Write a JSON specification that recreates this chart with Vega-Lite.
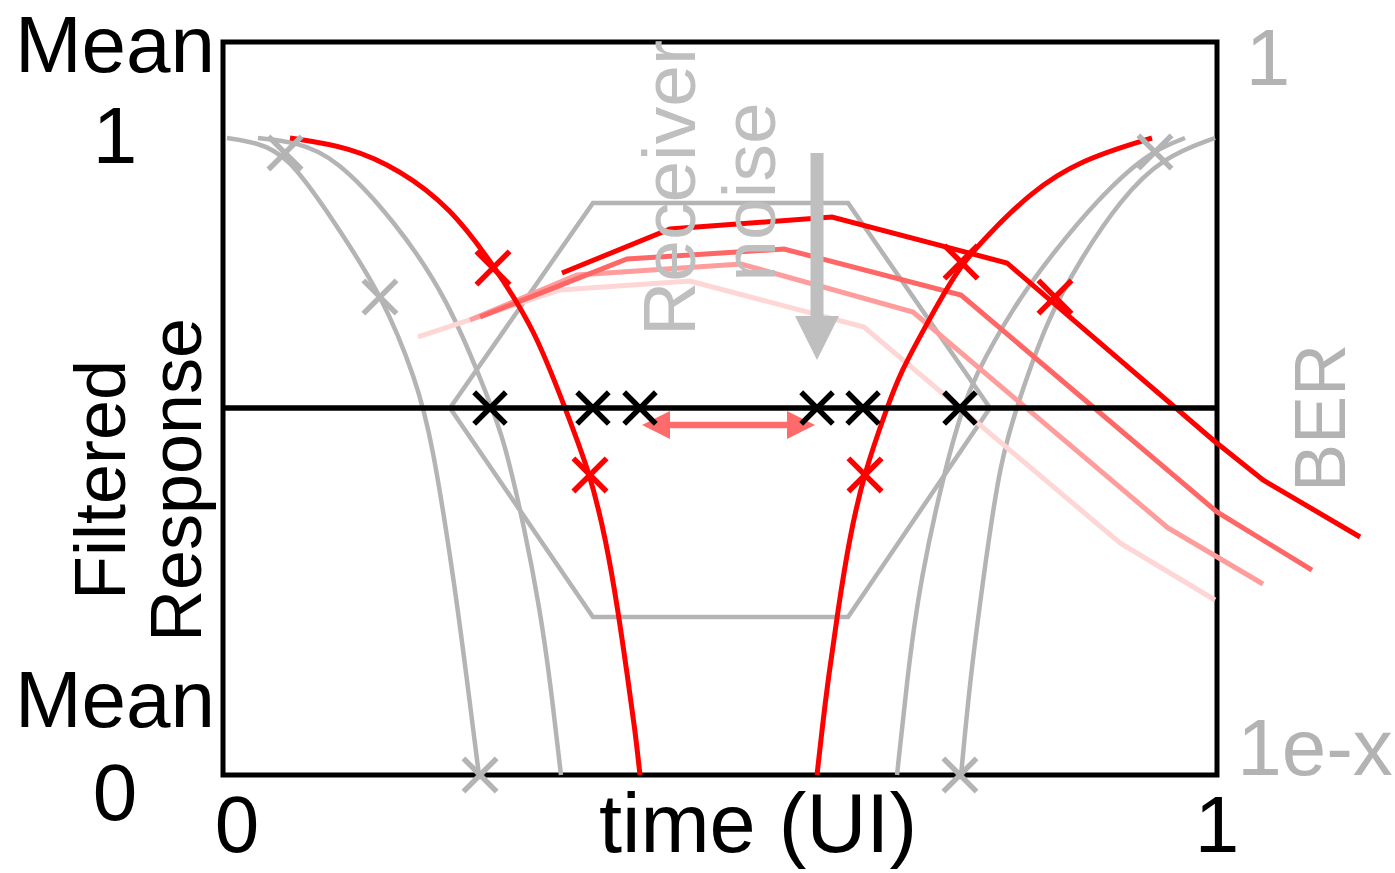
{
  "$schema": "https://vega.github.io/schema/vega-lite/v6.json",
  "width": 994,
  "height": 733,
  "autosize": {"type": "none"},
  "padding": {"left": 223, "top": 42, "right": 178, "bottom": 98},
  "background": "white",
  "config": {
    "view": {"stroke": "black", "strokeWidth": 5},
    "text": {"font": "Liberation Sans"}
  },
  "data": {
    "values": [
      {"g": "A", "t": 0.004, "r": 1.0},
      {"g": "A", "t": 0.0322, "r": 0.9937},
      {"g": "A", "t": 0.0654, "r": 0.9733},
      {"g": "A", "t": 0.1107, "r": 0.8713},
      {"g": "A", "t": 0.161, "r": 0.7504},
      {"g": "A", "t": 0.1942, "r": 0.6201},
      {"g": "A", "t": 0.2103, "r": 0.5259},
      {"g": "A", "t": 0.2324, "r": 0.3061},
      {"g": "A", "t": 0.2455, "r": 0.1491},
      {"g": "A", "t": 0.2575, "r": 0.0},
      {"g": "B", "t": 0.0352, "r": 1.0},
      {"g": "B", "t": 0.0734, "r": 0.9937},
      {"g": "B", "t": 0.1127, "r": 0.9702},
      {"g": "B", "t": 0.172, "r": 0.8713},
      {"g": "B", "t": 0.2264, "r": 0.7488},
      {"g": "B", "t": 0.2696, "r": 0.5808},
      {"g": "B", "t": 0.2827, "r": 0.5259},
      {"g": "B", "t": 0.3038, "r": 0.3846},
      {"g": "B", "t": 0.3189, "r": 0.259},
      {"g": "B", "t": 0.329, "r": 0.1491},
      {"g": "B", "t": 0.34, "r": 0.0},
      {"g": "C", "t": 0.6781, "r": 0.0},
      {"g": "C", "t": 0.6881, "r": 0.1491},
      {"g": "C", "t": 0.7012, "r": 0.3061},
      {"g": "C", "t": 0.7284, "r": 0.4945},
      {"g": "C", "t": 0.7445, "r": 0.5761},
      {"g": "C", "t": 0.7545, "r": 0.6201},
      {"g": "C", "t": 0.7948, "r": 0.7347},
      {"g": "C", "t": 0.835, "r": 0.8195},
      {"g": "C", "t": 0.8793, "r": 0.9027},
      {"g": "C", "t": 0.9296, "r": 0.9765},
      {"g": "C", "t": 0.9678, "r": 1.0},
      {"g": "D", "t": 0.7425, "r": 0.0},
      {"g": "D", "t": 0.7515, "r": 0.1491},
      {"g": "D", "t": 0.7646, "r": 0.3061},
      {"g": "D", "t": 0.7817, "r": 0.4945},
      {"g": "D", "t": 0.8018, "r": 0.5934},
      {"g": "D", "t": 0.829, "r": 0.7143},
      {"g": "D", "t": 0.8622, "r": 0.8085},
      {"g": "D", "t": 0.9024, "r": 0.9027},
      {"g": "D", "t": 0.9457, "r": 0.9702},
      {"g": "D", "t": 0.998, "r": 1.0},
      {"g": "H", "o": 1, "t": 0.2284, "r": 0.5761},
      {"g": "H", "o": 2, "t": 0.3722, "r": 0.898},
      {"g": "H", "o": 3, "t": 0.6288, "r": 0.898},
      {"g": "H", "o": 4, "t": 0.7716, "r": 0.5761},
      {"g": "H", "o": 5, "t": 0.6288, "r": 0.248},
      {"g": "H", "o": 6, "t": 0.3722, "r": 0.248},
      {"g": "H", "o": 7, "t": 0.2284, "r": 0.5761},
      {"g": "P", "t": 0.1962, "r": 0.6876},
      {"g": "P", "t": 0.339, "r": 0.7614},
      {"g": "P", "t": 0.4698, "r": 0.7755},
      {"g": "P", "t": 0.6449, "r": 0.7033},
      {"g": "P", "t": 0.9024, "r": 0.3642},
      {"g": "P", "t": 0.998, "r": 0.2747},
      {"g": "L", "t": 0.2485, "r": 0.7143},
      {"g": "L", "t": 0.3561, "r": 0.7849},
      {"g": "L", "t": 0.5211, "r": 0.8022},
      {"g": "L", "t": 0.6942, "r": 0.7268},
      {"g": "L", "t": 0.9507, "r": 0.3878},
      {"g": "L", "t": 1.0463, "r": 0.2998},
      {"g": "M", "t": 0.2586, "r": 0.719},
      {"g": "M", "t": 0.4064, "r": 0.81},
      {"g": "M", "t": 0.5644, "r": 0.8257},
      {"g": "M", "t": 0.7425, "r": 0.7535},
      {"g": "M", "t": 1.0, "r": 0.4129},
      {"g": "M", "t": 1.0956, "r": 0.3218},
      {"g": "R", "t": 0.341, "r": 0.7881},
      {"g": "R", "t": 0.4497, "r": 0.8571},
      {"g": "R", "t": 0.6127, "r": 0.876},
      {"g": "R", "t": 0.7887, "r": 0.8038},
      {"g": "R", "t": 0.996, "r": 0.5259},
      {"g": "R", "t": 1.0463, "r": 0.4631},
      {"g": "R", "t": 1.1439, "r": 0.3736},
      {"g": "EL", "t": 0.0674, "r": 1.0},
      {"g": "EL", "t": 0.1278, "r": 0.9859},
      {"g": "EL", "t": 0.1781, "r": 0.9498},
      {"g": "EL", "t": 0.2284, "r": 0.8917},
      {"g": "EL", "t": 0.2736, "r": 0.7975},
      {"g": "EL", "t": 0.3139, "r": 0.6986},
      {"g": "EL", "t": 0.3441, "r": 0.5761},
      {"g": "EL", "t": 0.3692, "r": 0.4741},
      {"g": "EL", "t": 0.3853, "r": 0.3689},
      {"g": "EL", "t": 0.3974, "r": 0.259},
      {"g": "EL", "t": 0.4074, "r": 0.1491},
      {"g": "EL", "t": 0.4145, "r": 0.0706},
      {"g": "EL", "t": 0.4195, "r": 0.0},
      {"g": "ER", "t": 0.5976, "r": 0.0},
      {"g": "ER", "t": 0.6026, "r": 0.0706},
      {"g": "ER", "t": 0.6087, "r": 0.1491},
      {"g": "ER", "t": 0.6187, "r": 0.259},
      {"g": "ER", "t": 0.6298, "r": 0.3689},
      {"g": "ER", "t": 0.6449, "r": 0.4741},
      {"g": "ER", "t": 0.668, "r": 0.5761},
      {"g": "ER", "t": 0.6811, "r": 0.6311},
      {"g": "ER", "t": 0.7113, "r": 0.7174},
      {"g": "ER", "t": 0.7414, "r": 0.8006},
      {"g": "ER", "t": 0.7716, "r": 0.8509},
      {"g": "ER", "t": 0.8119, "r": 0.9137},
      {"g": "ER", "t": 0.8622, "r": 0.9655},
      {"g": "ER", "t": 0.9346, "r": 1.0},
      {"g": "T", "t": 0.0, "r": 0.5761},
      {"g": "T", "t": 1.0, "r": 0.5761},
      {"g": "DA", "t": 0.4356, "r": 0.5495},
      {"g": "DA", "t": 0.5815, "r": 0.5495},
      {"g": "AL", "t": 0.4356, "r": 0.5495},
      {"g": "AR", "t": 0.5815, "r": 0.5495},
      {"g": "GA", "t": 0.5976, "r": 0.9765},
      {"g": "GA", "t": 0.5976, "r": 0.7143},
      {"g": "GH", "t": 0.5976, "r": 0.686},
      {"g": "XK", "t": 0.2686, "r": 0.5761},
      {"g": "XK", "t": 0.3722, "r": 0.5761},
      {"g": "XK", "t": 0.4195, "r": 0.5761},
      {"g": "XK", "t": 0.5976, "r": 0.5761},
      {"g": "XK", "t": 0.6439, "r": 0.5761},
      {"g": "XK", "t": 0.7414, "r": 0.5761},
      {"g": "XR", "t": 0.2716, "r": 0.7959},
      {"g": "XR", "t": 0.3692, "r": 0.471},
      {"g": "XR", "t": 0.6459, "r": 0.471},
      {"g": "XR", "t": 0.7425, "r": 0.8053},
      {"g": "XR", "t": 0.837, "r": 0.7504},
      {"g": "XG", "t": 0.0624, "r": 0.9765},
      {"g": "XG", "t": 0.1579, "r": 0.7504},
      {"g": "XG", "t": 0.2586, "r": 0.0},
      {"g": "XG", "t": 0.7414, "r": 0.0},
      {"g": "XG", "t": 0.9376, "r": 0.978},
      {"g": "T1", "t": -0.1087, "r": 1.1036, "label": "Mean"},
      {"g": "T1", "t": -0.1087, "r": 0.9608, "label": "1"},
      {"g": "T1", "t": -0.1087, "r": 0.0754, "label": "Mean"},
      {"g": "T1", "t": -0.1087, "r": -0.0706, "label": "0"},
      {"g": "T1", "t": 0.0141, "r": -0.1209, "label": "0"},
      {"g": "T1", "t": 1.0, "r": -0.1209, "label": "1"},
      {"g": "T6", "t": 0.5382, "r": -0.1209, "label": "time (UI)"},
      {"g": "T2", "t": -0.0986, "r": 0.4631, "label": "Filtered"},
      {"g": "T2", "t": -0.0221, "r": 0.4631, "label": "Response"},
      {"g": "T3", "t": 0.4748, "r": 0.9215, "label": "Receiver"},
      {"g": "T3", "t": 0.5553, "r": 0.9152, "label": "noise"},
      {"g": "T4", "t": 1.1288, "r": 0.5604, "label": "BER"},
      {"g": "T5", "t": 1.0513, "r": 1.0832, "label": "1"},
      {"g": "T5", "t": 1.0986, "r": 0.0, "label": "1e-x"}
    ]
  },
  "encoding": {
    "x": {"field": "t", "type": "quantitative", "axis": null, "scale": {"domain": [0, 1], "nice": false, "zero": false}},
    "y": {"field": "r", "type": "quantitative", "axis": null, "scale": {"domain": [0, 1.1507], "nice": false, "zero": false}}
  },
  "layer": [
    {
      "transform": [{"filter": "indexof(['A','B','C','D'], datum.g) >= 0"}],
      "mark": {"type": "line", "color": "#b4b4b4", "strokeWidth": 4.5, "interpolate": "basis"},
      "encoding": {"detail": {"field": "g"}}
    },
    {
      "transform": [{"filter": "datum.g == 'H'"}],
      "mark": {"type": "line", "color": "#b4b4b4", "strokeWidth": 4.5, "strokeJoin": "miter"},
      "encoding": {"order": {"field": "o", "type": "quantitative"}}
    },
    {
      "transform": [{"filter": "datum.g == 'P'"}],
      "mark": {"type": "line", "color": "#ffd6d6", "strokeWidth": 5},
      "encoding": {}
    },
    {
      "transform": [{"filter": "datum.g == 'L'"}],
      "mark": {"type": "line", "color": "#ff9c9c", "strokeWidth": 5},
      "encoding": {}
    },
    {
      "transform": [{"filter": "datum.g == 'M'"}],
      "mark": {"type": "line", "color": "#ff6666", "strokeWidth": 5},
      "encoding": {}
    },
    {
      "transform": [{"filter": "datum.g == 'R'"}],
      "mark": {"type": "line", "color": "#ff0000", "strokeWidth": 5},
      "encoding": {}
    },
    {
      "transform": [{"filter": "datum.g == 'EL' || datum.g == 'ER'"}],
      "mark": {"type": "line", "color": "#ff0000", "strokeWidth": 5, "interpolate": "basis"},
      "encoding": {"detail": {"field": "g"}}
    },
    {
      "transform": [{"filter": "datum.g == 'T'"}],
      "mark": {"type": "line", "color": "#000000", "strokeWidth": 5.5},
      "encoding": {}
    },
    {
      "transform": [{"filter": "datum.g == 'DA'"}],
      "mark": {"type": "line", "color": "#ff6b6b", "strokeWidth": 6.5},
      "encoding": {}
    },
    {
      "transform": [{"filter": "datum.g == 'AL'"}],
      "mark": {"type": "point", "shape": "M-1,0L1,-1L1,1Z", "filled": true, "color": "#ff6b6b", "opacity": 1, "size": 784},
      "encoding": {}
    },
    {
      "transform": [{"filter": "datum.g == 'AR'"}],
      "mark": {"type": "point", "shape": "M1,0L-1,-1L-1,1Z", "filled": true, "color": "#ff6b6b", "opacity": 1, "size": 784},
      "encoding": {}
    },
    {
      "transform": [{"filter": "datum.g == 'GA'"}],
      "mark": {"type": "line", "color": "#bfbfbf", "strokeWidth": 13},
      "encoding": {}
    },
    {
      "transform": [{"filter": "datum.g == 'GH'"}],
      "mark": {"type": "point", "shape": "M-1,-1L1,-1L0,1Z", "filled": true, "color": "#bfbfbf", "opacity": 1, "size": 1936},
      "encoding": {}
    },
    {
      "transform": [{"filter": "datum.g == 'XK'"}],
      "mark": {"type": "point", "shape": "M-1,-1L1,1M1,-1L-1,1", "filled": false, "color": "#000000", "opacity": 1, "strokeWidth": 5.5, "size": 1000},
      "encoding": {}
    },
    {
      "transform": [{"filter": "datum.g == 'XR'"}],
      "mark": {"type": "point", "shape": "M-1,-1L1,1M1,-1L-1,1", "filled": false, "color": "#ff0000", "opacity": 1, "strokeWidth": 5.5, "size": 1100},
      "encoding": {}
    },
    {
      "transform": [{"filter": "datum.g == 'XG'"}],
      "mark": {"type": "point", "shape": "M-1,-1L1,1M1,-1L-1,1", "filled": false, "color": "#b4b4b4", "opacity": 1, "strokeWidth": 5.5, "size": 1100},
      "encoding": {}
    },
    {
      "transform": [{"filter": "datum.g == 'T1'"}],
      "mark": {"type": "text", "fontSize": 80, "color": "#000000", "align": "center", "baseline": "alphabetic"},
      "encoding": {"text": {"field": "label"}}
    },
    {
      "transform": [{"filter": "datum.g == 'T6'"}],
      "mark": {"type": "text", "fontSize": 83, "color": "#000000", "align": "center", "baseline": "alphabetic"},
      "encoding": {"text": {"field": "label"}}
    },
    {
      "transform": [{"filter": "datum.g == 'T2'"}],
      "mark": {"type": "text", "fontSize": 72, "color": "#000000", "align": "center", "baseline": "alphabetic", "angle": 270},
      "encoding": {"text": {"field": "label"}}
    },
    {
      "transform": [{"filter": "datum.g == 'T3'"}],
      "mark": {"type": "text", "fontSize": 75, "color": "#bfbfbf", "align": "center", "baseline": "alphabetic", "angle": 270},
      "encoding": {"text": {"field": "label"}}
    },
    {
      "transform": [{"filter": "datum.g == 'T4'"}],
      "mark": {"type": "text", "fontSize": 72, "color": "#b3b3b3", "align": "center", "baseline": "alphabetic", "angle": 270},
      "encoding": {"text": {"field": "label"}}
    },
    {
      "transform": [{"filter": "datum.g == 'T5'"}],
      "mark": {"type": "text", "fontSize": 80, "color": "#b3b3b3", "align": "center", "baseline": "alphabetic"},
      "encoding": {"text": {"field": "label"}}
    }
  ]
}
